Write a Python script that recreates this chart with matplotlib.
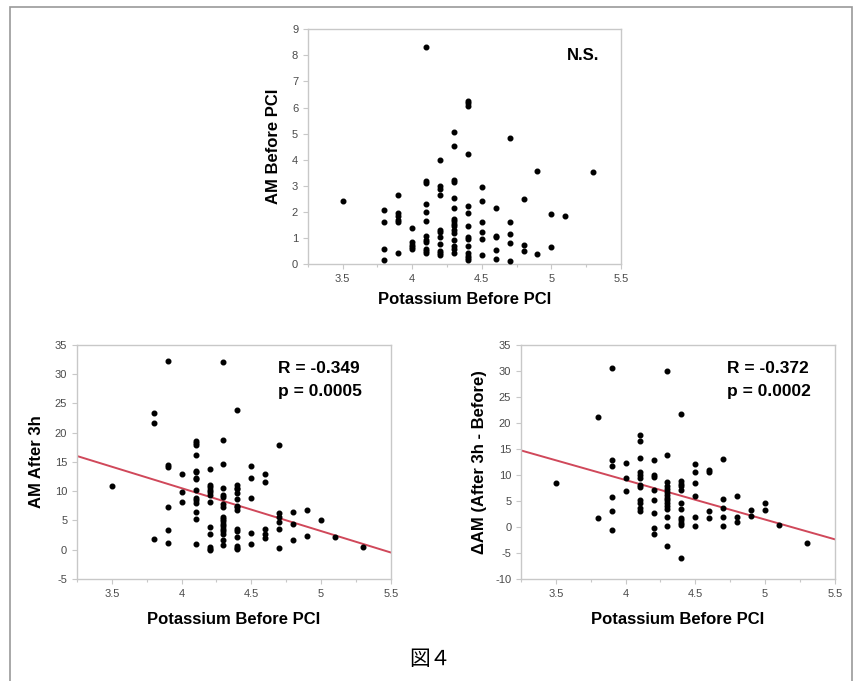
import numpy as np
import matplotlib
matplotlib.use("Agg")
import matplotlib.pyplot as plt
from matplotlib.patches import Rectangle

plt.rcParams['font.family'] = ['Liberation Sans', 'DejaVu Sans']
plt.rcParams['axes.unicode_minus'] = False

# --- top panel: AM before PCI vs potassium ---
k_top = ([3.5] + [3.8] * 4 + [3.9] * 6 + [4.0] * 5 + [4.1] * 12 + [4.2] * 11
         + [4.3] * 16 + [4.4] * 14 + [4.5] * 6 + [4.6] * 5 + [4.7] * 5
         + [4.8] * 3 + [4.9] * 2 + [5.0] * 2 + [5.1] + [5.3])
am_before = [2.43,
             2.09, 1.6, 0.57, 0.16,
             2.67, 1.96, 1.84, 1.71, 1.6, 0.42,
             1.38, 0.85, 0.75, 0.67, 0.57,
             8.33, 3.18, 3.1, 2.31, 1.99, 1.66, 1.1, 0.93, 0.85, 0.6, 0.52, 0.44,
             4.0, 2.98, 2.9, 2.65, 1.33, 1.25, 1.03, 0.76, 0.49, 0.42, 0.37,
             5.07, 4.54, 3.22, 3.16, 2.55, 2.17, 1.74, 1.65, 1.56, 1.47, 1.3, 1.2,
             0.93, 0.7, 0.57, 0.42,
             6.26, 6.17, 6.07, 4.22, 2.23, 1.96, 1.46, 1.05, 0.98, 0.68, 0.43,
             0.32, 0.24, 0.18,
             2.97, 2.43, 1.63, 1.25, 0.96, 0.35,
             2.14, 1.1, 1.03, 0.54, 0.2,
             4.84, 1.61, 1.15, 0.82, 0.13,
             2.48, 0.74, 0.51,
             3.56, 0.39,
             1.93, 0.67,
             1.84,
             3.55]

# --- bottom left: AM after 3h ---
k_after = ([3.5] + [3.8] * 3 + [3.9] * 6 + [4.0] * 3 + [4.1] * 15 + [4.2] * 12
           + [4.3] * 18 + [4.4] * 15 + [4.5] * 5 + [4.6] * 5 + [4.7] * 6
           + [4.8] * 3 + [4.9] * 2 + [5.0] + [5.1] + [5.3])
am_after = [10.8,
            23.3, 21.7, 1.8,
            32.3, 14.5, 14.2, 7.2, 3.4, 1.1,
            13.0, 9.8, 8.2,
            18.5, 18.2, 17.9, 16.2, 13.5, 13.2, 12.3, 12.1, 10.2, 8.8, 8.5, 8.0,
            6.4, 5.3, 0.9,
            13.8, 11.0, 10.7, 10.2, 9.8, 9.4, 8.1, 3.9, 2.6, 0.5, 0.1, 0.0,
            32.1, 18.7, 14.7, 10.5, 9.4, 9.0, 7.8, 7.2, 5.6, 5.3, 4.9, 4.4, 4.0,
            3.5, 3.2, 2.6, 1.7, 0.8,
            23.8, 11.0, 10.6, 10.3, 9.7, 8.7, 7.5, 7.2, 6.8, 3.6, 3.2, 2.1, 0.7,
            0.3, 0.1,
            14.3, 12.2, 8.8, 2.8, 1.0,
            13.0, 11.5, 3.6, 2.6, 1.9,
            17.9, 6.3, 5.6, 4.8, 3.5, 0.2,
            6.4, 4.3, 1.6,
            6.8, 2.4,
            5.1,
            2.2,
            0.5]
fit_after_x = [3.25, 5.5]
fit_after_y = [16.0, -0.5]

# --- bottom right: delta AM ---
k_delta = ([3.5] + [3.8] * 2 + [3.9] * 6 + [4.0] * 3 + [4.1] * 12 + [4.2] * 8
           + [4.3] * 15 + [4.4] * 12 + [4.5] * 6 + [4.6] * 4 + [4.7] * 5
           + [4.8] * 3 + [4.9] * 2 + [5.0] * 2 + [5.1] + [5.3])
am_delta = [8.5,
            21.1, 1.7,
            30.5, 12.9, 11.7, 5.7, 3.1, -0.6,
            12.3, 9.3, 6.9,
            17.7, 16.5, 13.2, 10.6, 10.0, 9.3, 8.1, 7.7, 5.2, 4.5, 3.7, 3.1,
            12.8, 9.9, 9.5, 7.1, 5.2, 2.7, -0.3, -1.3,
            30.0, 13.8, 8.6, 7.8, 7.3, 6.7, 6.1, 5.6, 5.1, 4.6, 4.1, 3.5, 1.9,
            0.1, -3.6,
            21.7, 8.8, 8.3, 7.8, 7.0, 4.6, 3.5, 1.7, 1.3, 0.8, 0.4, -6.0,
            12.0, 10.6, 8.4, 5.9, 1.9, 0.1,
            10.9, 10.5, 3.1, 1.7,
            13.1, 5.4, 3.6, 1.9, 0.1,
            5.9, 1.9, 0.9,
            3.3, 2.0,
            4.6, 3.2,
            0.3,
            -3.1]
fit_delta_x = [3.25, 5.5]
fit_delta_y = [14.7, -2.4]

xlabel = 'Potassium Before PCI'
spine_c = '#c8c8c8'
tick_c = '#4a4a4a'
red = '#d0485a'

fig = plt.figure(figsize=(8.6, 6.81), dpi=100)

# outer frame (bottom edge runs off the picture)
fig.add_artist(Rectangle((10 / 860, -0.05), 842 / 860, 1.05 - 7 / 681,
                         transform=fig.transFigure, fill=False,
                         edgecolor='#999999', linewidth=1.2))


def style(ax, ymin, ymax, ystep):
    ax.set_xlim(3.25, 5.5)
    ax.set_ylim(ymin, ymax)
    ax.set_xticks([3.5, 4, 4.5, 5, 5.5])
    ax.set_xticklabels(['3.5', '4', '4.5', '5', '5.5'])
    ax.set_xticks(np.arange(3.25, 5.51, 0.25), minor=True)
    ax.set_yticks(np.arange(ymin, ymax + 0.1, ystep))
    for s in ax.spines.values():
        s.set_color(spine_c)
        s.set_linewidth(1.0)
    ax.tick_params(which='both', colors=spine_c, labelcolor=tick_c,
                   labelsize=8, length=3.5, width=0.8, direction='out')
    ax.tick_params(which='minor', length=2.5)
    ax.set_xlabel(xlabel, fontsize=12, fontweight='bold', labelpad=6)


ax1 = fig.add_axes([0.358, 0.612, 0.364, 0.345])
ax1.scatter(k_top, am_before, s=11, color='black', zorder=3)
style(ax1, 0, 9, 1)
ax1.set_ylabel('AM Before PCI', fontsize=12, fontweight='bold', labelpad=8)
ax1.text(0.93, 0.89, 'N.S.', transform=ax1.transAxes, ha='right',
         va='center', fontsize=12, fontweight='bold')

ax2 = fig.add_axes([0.0895, 0.150, 0.365, 0.3436])
ax2.scatter(k_after, am_after, s=11, color='black', zorder=3)
ax2.plot(fit_after_x, fit_after_y, color=red, linewidth=1.4, zorder=2)
style(ax2, -5, 35, 5)
ax2.set_ylabel('AM After 3h', fontsize=12, fontweight='bold', labelpad=8)
ax2.set_xlabel(xlabel, fontsize=12, fontweight='bold', labelpad=10)
ax2.text(0.64, 0.90, 'R = -0.349', transform=ax2.transAxes, ha='left',
         va='center', fontsize=12.5, fontweight='bold')
ax2.text(0.64, 0.80, 'p = 0.0005', transform=ax2.transAxes, ha='left',
         va='center', fontsize=12.5, fontweight='bold')

ax3 = fig.add_axes([0.6058, 0.150, 0.365, 0.3436])
ax3.scatter(k_delta, am_delta, s=11, color='black', zorder=3)
ax3.plot(fit_delta_x, fit_delta_y, color=red, linewidth=1.4, zorder=2)
style(ax3, -10, 35, 5)
ax3.set_ylabel('ΔAM (After 3h - Before)', fontsize=12, fontweight='bold',
               labelpad=6)
ax3.set_xlabel(xlabel, fontsize=12, fontweight='bold', labelpad=10)
ax3.text(0.656, 0.90, 'R = -0.372', transform=ax3.transAxes, ha='left',
         va='center', fontsize=12.5, fontweight='bold')
ax3.text(0.656, 0.80, 'p = 0.0002', transform=ax3.transAxes, ha='left',
         va='center', fontsize=12.5, fontweight='bold')

fig.text(0.5, 0.032, '図４', ha='center', va='center', fontsize=15,
         family=['Noto Sans CJK JP', 'DejaVu Sans'])

fig.savefig('out.png', dpi=100)
